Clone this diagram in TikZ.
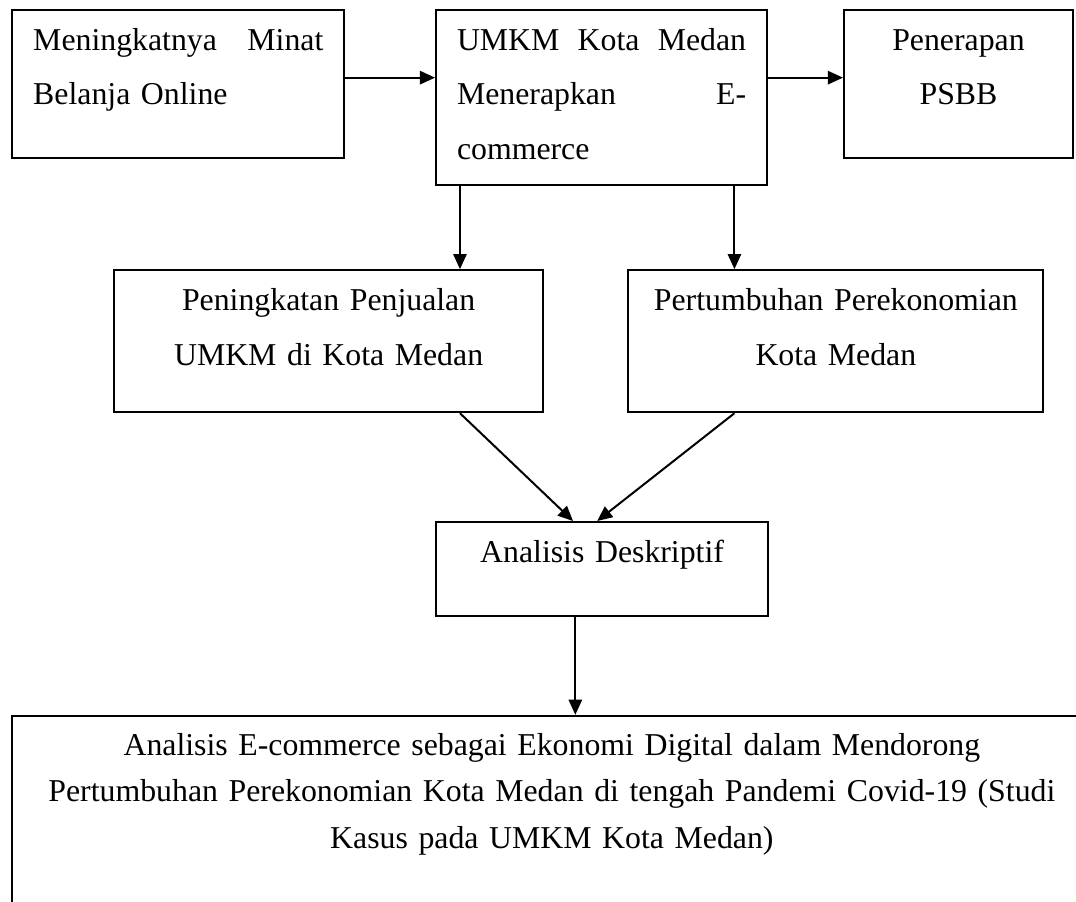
\documentclass[tikz,border=0pt]{standalone}
\usepackage{fontspec}
\setmainfont{Liberation Serif}
\usetikzlibrary{arrows.meta}

\begin{document}
\begin{tikzpicture}[
		kotak/.style={draw, line width=0.75pt, anchor=north west, inner xsep=7.9pt, inner ysep=6.1pt, text height=9pt, font=\fontsize{12pt}{20.7pt}\selectfont},
		panah/.style={line width=0.75pt, -{Triangle[length=5.7pt,width=5pt]}}
	]
			\useasboundingbox (0,0) rectangle (14.27,11.95);
			\coordinate (atas) at (0,10.92);
			\coordinate (kiri) at (6.10,0);
			\coordinate (kanan) at (9.74,0);
			\coordinate (masuk1) at (7.60,0);
			\coordinate (masuk2) at (7.92,0);
			\coordinate (tengah) at (7.63,0);
			\node[kotak, align=left, text width=109.5pt, text depth=34.7pt] (minat) at (0.15,11.83) {Meningkatnya\hfill Minat\\Belanja Online};
			\node[kotak, align=left, text width=109.1pt, text depth=44.8pt] (umkm) at (5.77,11.83) {UMKM\hfill Kota\hfill Medan\\Menerapkan\hfill E-\\commerce};
			\node[kotak, align=center, text width=70.6pt, text depth=34.7pt] (psbb) at (11.18,11.83) {Penerapan\\PSBB};
			\node[kotak, align=center, text width=146.1pt, text depth=32.4pt] (jual) at (1.50,8.38) {Peningkatan Penjualan\\UMKM di Kota Medan};
			\node[kotak, align=center, text width=140.8pt, text depth=32.4pt] (tumbuh) at (8.32,8.38) {Pertumbuhan Perekonomian\\Kota Medan};
			\node[kotak, align=center, text width=109.5pt, text depth=14.3pt] (analisis) at (5.77,5.04) {Analisis Deskriptif};
			\node[kotak, align=center, text width=391.4pt, text depth=65.6pt, font=\fontsize{12pt}{17.4pt}\selectfont] (judul) at (0.15,2.47) {Analisis E-commerce sebagai Ekonomi Digital dalam Mendorong\\Pertumbuhan Perekonomian Kota Medan di tengah Pandemi Covid-19 (Studi\\Kasus pada UMKM Kota Medan)};
			\draw[panah] (minat.east |- atas) -- (umkm.west |- atas);
			\draw[panah] (umkm.east |- atas) -- (psbb.west |- atas);
			\draw[panah] (umkm.south -| kiri) -- (jual.north -| kiri);
			\draw[panah] (umkm.south -| kanan) -- (tumbuh.north -| kanan);
			\draw[panah] (jual.south -| kiri) -- (analisis.north -| masuk1);
			\draw[panah] (tumbuh.south -| kanan) -- (analisis.north -| masuk2);
			\draw[panah] (analisis.south -| tengah) -- (judul.north -| tengah);
		\end{tikzpicture}
\end{document}
